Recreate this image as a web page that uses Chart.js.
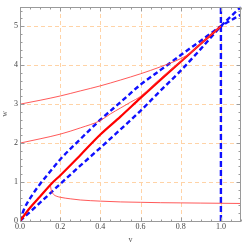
<!DOCTYPE html>
<html><head><meta charset="utf-8">
<script src="https://cdn.jsdelivr.net/npm/chart.js@4.4.1/dist/chart.umd.min.js"></script>
<style>html,body{margin:0;padding:0;background:#fff;}#wrap{width:242px;height:245px;position:relative;}</style>
</head><body><div id="wrap"><canvas id="c"></canvas></div>
<script>
// ---- axes ----
const xRange = [0, 1.1];
const yRange = [0, 5.5];
const xTicks = [0, 0.2, 0.4, 0.6, 0.8, 1.0];
const xTickLabels = ['0.0', '0.2', '0.4', '0.6', '0.8', '1.0'];
const yTicks = [0, 1, 2, 3, 4, 5];
const yTickLabels = ['0', '1', '2', '3', '4', '5'];
const xLabel = 'v';
const yLabel = 'w';

// ---- series ----
const mainV = [0, 0.05, 0.1, 0.165, 0.2, 0.3, 0.4, 0.5, 0.6, 0.7, 0.8, 0.9, 1.0];
const mainW = [0, 0.34, 0.63, 1.0, 1.17, 1.69, 2.22, 2.68, 3.16, 3.63, 4.09, 4.55, 5.0];

const upperBlueV = [0, 0.02, 0.05, 0.1, 0.15, 0.2, 0.3, 0.4, 0.5, 0.6, 0.7, 0.8, 0.9, 1.0, 1.1];
const upperBlueW = [0, 0.3, 0.58, 0.95, 1.27, 1.58, 2.1, 2.6, 3.05, 3.5, 3.88, 4.26, 4.63, 5.0, 5.3];

const lowerBlueV = [0, 0.1, 0.2, 0.3, 0.4, 0.5, 0.6, 0.7, 0.8, 0.9, 1.0, 1.1];
const lowerBlueW = [0, 0.47, 0.95, 1.42, 1.88, 2.35, 2.83, 3.35, 3.86, 4.42, 5.0, 5.5];

const thin3V = [0, 0.1, 0.2, 0.3, 0.4, 0.5, 0.6, 0.7, 0.8, 0.85, 0.9, 1.0];
const thin3W = [3, 3.1, 3.21, 3.34, 3.47, 3.62, 3.78, 3.96, 4.17, 4.32, 4.55, 5.0];

const thin2V = [0, 0.1, 0.2, 0.3, 0.4, 0.45, 0.5, 0.55, 0.6, 0.7, 0.8, 0.9, 1.0];
const thin2W = [2, 2.11, 2.23, 2.39, 2.58, 2.75, 2.9, 3.05, 3.2, 3.66, 4.1, 4.56, 5.0];

const lowV = [0.152, 0.155, 0.16, 0.17, 0.18, 0.2, 0.25, 0.3, 0.4, 0.5, 0.6, 0.7, 0.8, 0.9, 1.0, 1.1];
const lowW = [0.9, 0.8, 0.73, 0.67, 0.64, 0.61, 0.57, 0.54, 0.51, 0.49, 0.48, 0.47, 0.465, 0.46, 0.455, 0.45];

const vLineV = [1.0, 1.0];
const vLineW = [0, 5.5];

const pts = (xs, ys) => xs.map((x, i) => ({x: x, y: ys[i]}));

const BLUE = '#1010ff';
const RED = '#ff0000';
const THIN = 'rgba(255,60,60,0.85)';
const GRID = '#ffd3a6';
const FRAME = '#9a9a9a';
const FONT = "'Liberation Serif', 'DejaVu Serif', serif";

const framePlugin = {
  id: 'framePlugin',
  beforeDatasetsDraw(chart) {
    const {ctx, chartArea: a, scales: {x, y}} = chart;
    ctx.save();
    ctx.strokeStyle = GRID;
    ctx.lineWidth = 1;
    ctx.setLineDash([4, 3]);
    xTicks.forEach(v => {
      if (v === 0) return;
      const px = Math.round(x.getPixelForValue(v)) + 0.5;
      ctx.beginPath(); ctx.moveTo(px, a.bottom); ctx.lineTo(px, a.top); ctx.stroke();
    });
    yTicks.forEach(v => {
      if (v === 0) return;
      const py = Math.round(y.getPixelForValue(v)) + 0.5;
      ctx.beginPath(); ctx.moveTo(a.left, py); ctx.lineTo(a.right, py); ctx.stroke();
    });
    ctx.restore();
  },
  afterDatasetsDraw(chart) {
    const {ctx, chartArea: a, scales: {x, y}} = chart;
    ctx.save();
    ctx.strokeStyle = FRAME;
    ctx.lineWidth = 1;
    ctx.setLineDash([]);
    const L = Math.round(a.left) + 0.5, R = Math.round(a.right) - 0.5;
    const T = Math.round(a.top) + 0.5, B = Math.round(a.bottom) + 0.5;
    ctx.strokeRect(L, T, R - L, B - T);
    ctx.beginPath();
    // x ticks (major 0.2, minor 0.05)
    for (let i = 0; i <= 22; i++) {
      const v = i * 0.05;
      const px = Math.round(x.getPixelForValue(v)) + 0.5;
      const len = (i % 4 === 0) ? 4 : 2;
      ctx.moveTo(px, B); ctx.lineTo(px, B - len);
      ctx.moveTo(px, T); ctx.lineTo(px, T + len);
    }
    // y ticks (major 1, minor 0.2)
    for (let i = 0; i <= 27; i++) {
      const v = i * 0.2;
      const py = Math.round(y.getPixelForValue(v)) + 0.5;
      const len = (i % 5 === 0) ? 4 : 2;
      ctx.moveTo(L, py); ctx.lineTo(L + len, py);
      ctx.moveTo(R, py); ctx.lineTo(R - len, py);
    }
    ctx.stroke();
    ctx.restore();
  }
};

new Chart(document.getElementById('c'), {
  type: 'scatter',
  data: {
    datasets: [
      {data: pts(thin3V, thin3W), borderColor: THIN, borderWidth: 1},
      {data: pts(thin2V, thin2W), borderColor: THIN, borderWidth: 1},
      {data: pts(lowV, lowW), borderColor: THIN, borderWidth: 1},
      {data: pts(mainV, mainW), borderColor: RED, borderWidth: 2.2},
      {data: pts(upperBlueV, upperBlueW), borderColor: BLUE, borderWidth: 2.4, borderDash: [5, 3]},
      {data: pts(lowerBlueV, lowerBlueW), borderColor: BLUE, borderWidth: 2.4, borderDash: [5, 3]},
      {data: pts(vLineV, vLineW), borderColor: BLUE, borderWidth: 2.4, borderDash: [6, 3], cubicInterpolationMode: 'default', tension: 0}
    ].map(d => Object.assign({showLine: true, pointRadius: 0, pointHoverRadius: 0, fill: false, cubicInterpolationMode: 'monotone'}, d))
  },
  options: {
    responsive: true,
    maintainAspectRatio: false,
    devicePixelRatio: 1,
    animation: false,
    events: [],
    layout: {padding: {top: 0, right: 1, left: 0, bottom: 0}},
    plugins: {legend: {display: false}, tooltip: {enabled: false}},
    scales: {
      x: {
        type: 'linear', min: xRange[0], max: xRange[1],
        afterBuildTicks: s => { s.ticks = xTicks.map(v => ({value: v})); },
        afterFit: s => { s.height = 24; },
        grid: {display: false, drawTicks: false, tickLength: 0},
        border: {display: false},
        ticks: {
          autoSkip: false, maxRotation: 0, padding: 1, color: '#444',
          font: {family: FONT, size: 8},
          callback: (v) => { const i = xTicks.indexOf(v); return i >= 0 ? xTickLabels[i] : ''; }
        },
        title: {display: true, text: xLabel, color: '#555', font: {family: FONT, size: 8}, padding: {top: 0, bottom: 0}}
      },
      y: {
        type: 'linear', min: yRange[0], max: yRange[1],
        afterBuildTicks: s => { s.ticks = yTicks.map(v => ({value: v})); },
        afterFit: s => { s.width = 20; },
        grid: {display: false, drawTicks: false, tickLength: 0},
        border: {display: false},
        ticks: {
          autoSkip: false, padding: 2, color: '#444',
          font: {family: FONT, size: 8},
          callback: (v) => { const i = yTicks.indexOf(v); return i >= 0 ? yTickLabels[i] : ''; }
        },
        title: {display: true, text: yLabel, color: '#555', font: {family: FONT, size: 8}, padding: {top: 0, bottom: 0}}
      }
    }
  },
  plugins: [framePlugin]
});
</script>
</body></html>
